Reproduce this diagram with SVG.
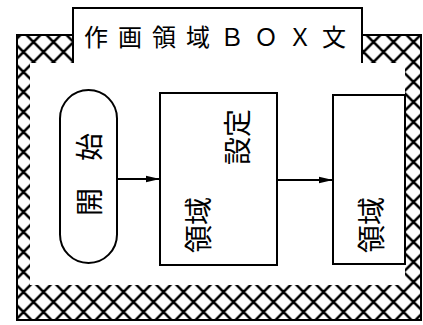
<svg xmlns="http://www.w3.org/2000/svg" width="423" height="325" viewBox="0 0 423 325">
<style>
.ln{fill:none;stroke:#000;stroke-width:2}
.box{fill:#fff;stroke:#000;stroke-width:2}
.t{font-family:"Noto Sans CJK JP","Noto Sans CJK SC",sans-serif;fill:#000}
.v{font-size:28px;text-anchor:middle;dominant-baseline:central}
.edge{stroke:#000;stroke-width:2;fill:none;marker-end:url(#ah)}
</style>
<defs>
<pattern id="hatch" patternUnits="userSpaceOnUse" x="13.5" y="2" width="20" height="20">
<path d="M-2,-2 L22,22 M22,-2 L-2,22" stroke="#000" stroke-width="2.6" fill="none"/>
</pattern>
<marker id="ah" viewBox="0 0 14 8" refX="14" refY="4" markerWidth="14" markerHeight="8" markerUnits="userSpaceOnUse" orient="auto">
<path d="M0,0.8 L14,4 L0,7.2 Z" fill="#000"/>
</marker>
</defs>
<rect width="423" height="325" fill="#fff"/>
<g id="frame">
<path d="M17,35 H421 V320 H17 Z M30,63 H73 V35 H362 V63 H405 V285 H30 Z" fill="url(#hatch)" fill-rule="evenodd"/>
<path class="ln" d="M17,35 H73 V8 H362 V35 H421 V320 H17 Z"/>
<path class="ln" d="M73,35 V63 M362,35 V63"/>
<text class="t" x="84" y="46" font-size="24" letter-spacing="10">作画領域ＢＯＸ文</text>
</g>
<g id="connectors">
<line class="edge" x1="117" y1="179" x2="160" y2="179"/>
<line class="edge" x1="277" y1="180" x2="333" y2="180"/>
</g>
<g id="start">
<rect class="box" x="60" y="90" width="57" height="173" rx="28.5" ry="28.5"/>
<text class="t v" font-size="27" transform="translate(88,175) rotate(-90)"><tspan x="-27" y="0">開</tspan><tspan x="28" y="0">始</tspan></text>
</g>
<g id="setting">
<rect class="box" x="160" y="93" width="117" height="172"/>
<text class="t v" transform="translate(197,225) rotate(-90)"><tspan x="0" y="0">領域</tspan></text>
<text class="t v" transform="translate(236,137) rotate(-90)"><tspan x="0" y="0">設定</tspan></text>
</g>
<g id="area">
<rect class="box" x="333" y="95" width="72" height="169"/>
<text class="t v" transform="translate(370,225) rotate(-90)">領域</text>
</g>
</svg>
